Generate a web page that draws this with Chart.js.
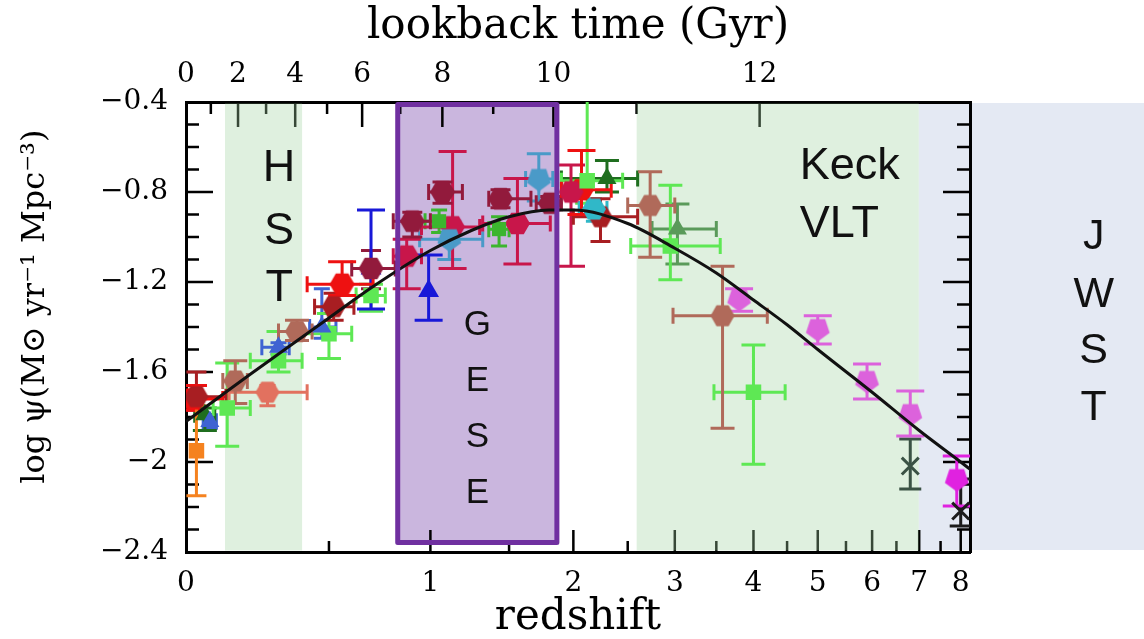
<!DOCTYPE html>
<html>
<head>
<meta charset="utf-8">
<script src="https://cdn.jsdelivr.net/npm/chart.js@4.4.1/dist/chart.umd.min.js"></script>
<style>
  html, body { margin: 0; padding: 0; background: #fff; }
  #wrap { width: 1144px; height: 639px; }
</style>
</head>
<body>
<div id="wrap"><canvas id="sfr" width="1144" height="639"></canvas></div>
<script>
// each row: [z, zLow, zHigh, logPsi, logPsiLow, logPsiHigh]  (null = no horizontal bar)
const orangeSquares = [[0.03, null, null, -1.95, -2.15, -1.75]];
const redHex = [
  [0.02, 0.0, 0.11, -1.72, -1.77, -1.66],
  [0.557, 0.41, 0.70, -1.21, -1.26, -1.11],
  [2.07, 1.90, 2.34, -0.79, -0.90, -0.615]
];
const darkRedHex = [
  [0.03, 0.0, 0.12, -1.71, -1.77, -1.60],
  [0.52, 0.44, 0.61, -1.31, -1.37, -1.25],
  [2.24, 2.00, 2.60, -0.91, -1.02, -0.83]
];
const maroonHex = [
  [0.69, 0.60, 0.81, -1.14, -1.23, -1.06],
  [0.90, 0.80, 1.00, -0.93, -1.00, -0.89],
  [1.07, 0.99, 1.19, -0.80, -0.85, -0.755],
  [1.44, 1.36, 1.66, -0.83, -0.87, -0.79],
  [1.81, 1.70, 1.90, -0.85, -0.88, -0.82]
];
const crimsonHex = [
  [0.87, 0.80, 0.95, -1.085, -1.23, -1.01],
  [1.13, 0.95, 1.30, -0.955, -1.14, -0.62],
  [1.56, 1.32, 1.81, -0.94, -1.12, -0.74],
  [1.98, null, null, -0.80, -1.13, -0.68]
];
const brownHex = [
  [0.15, 0.11, 0.19, -1.64, -1.74, -1.55],
  [0.37, 0.30, 0.43, -1.42, -1.46, -1.37],
  [2.73, 2.50, 3.00, -0.86, -1.09, -0.71],
  [3.58, 2.98, 4.20, -1.35, -1.85, -1.13]
];
const salmonHex = [[0.26, 0.13, 0.41, -1.69, -1.75, -1.66]];
const steelBluePentagons = [
  [1.11, 0.94, 1.32, -1.01, -1.10, -0.93],
  [1.72, 1.62, 1.83, -0.742, -0.84, -0.63]
];
const turquoiseHex = [[2.18, 2.05, 2.30, -0.876, -0.93, -0.83]];
const lightGreenSquares = [
  [0.124, 0.08, 0.20, -1.76, -1.93, -1.56],
  [0.30, 0.20, 0.39, -1.55, -1.60, -1.42],
  [0.50, 0.39, 0.60, -1.43, -1.54, -1.34],
  [0.69, 0.62, 0.76, -1.26, -1.33, -1.21],
  [2.12, 1.90, 2.45, -0.75, -0.85, -0.30],
  [2.95, 2.53, 3.55, -1.04, -1.19, -0.77],
  [4.00, 3.47, 4.47, -1.69, -2.01, -1.48]
];
const greenSquares = [
  [1.05, 0.97, 1.13, -0.93, -0.98, -0.88],
  [1.43, 1.36, 1.50, -0.965, -1.04, -0.91]
];
const darkGreenTriangles = [
  [0.055, 0.025, 0.085, -1.79, -1.86, -1.76],
  [2.30, 1.90, 2.60, -0.74, -0.80, -0.66]
];
const midGreenTriangles = [[3.03, 2.75, 3.50, -0.964, -1.12, -0.853]];
const royalBlueTriangles = [
  [0.07, 0.05, 0.09, -1.82, -1.85, -1.79],
  [0.30, 0.24, 0.34, -1.49, -1.52, -1.47],
  [0.47, 0.42, 0.53, -1.40, -1.45, -1.23]
];
const blueTriangles = [
  [0.69, null, null, -1.14, -1.32, -0.88],
  [0.99, null, null, -1.24, -1.37, -1.08]
];
const orchidPentagons = [
  [3.8, null, null, -1.276, -1.33, -1.23],
  [5.0, null, null, -1.409, -1.476, -1.35],
  [5.9, null, null, -1.64, -1.72, -1.564],
  [6.8, null, null, -1.787, -1.884, -1.684]
];
const magentaPentagons = [[7.9, null, null, -2.076, -2.196, -1.973]];
const slateCrosses = [[6.8, null, null, -2.018, -2.12, -1.898]];
const blackCrosses = [[8.0, null, null, -2.218, -2.284, -2.076]];

// fitted star formation history
const curveZ = [0, 0.1, 0.2, 0.3, 0.5, 0.7, 1.0, 1.25, 1.5, 1.8, 2.0, 2.5, 3.0, 3.5, 4.0, 4.5, 5.0, 6.0, 7.0, 8.0, 8.3];
const curveLogPsi = [-1.82, -1.71, -1.61, -1.52, -1.36, -1.22, -1.06, -0.97, -0.91, -0.88, -0.88, -0.94, -1.05, -1.16, -1.28, -1.39, -1.50, -1.69, -1.86, -2.00, -2.04];

// axes
const zTicks = [0, 1, 2, 3, 4, 5, 6, 7, 8];
const zMinorTicks = [0.5, 1.5, 2.5, 3.5, 4.5, 5.5, 6.5, 7.5];
const lookbackGyr = [0, 1, 2, 3, 4, 5, 6, 7, 8, 9, 10, 11, 12];
const lookbackZ = [0, 0.073, 0.159, 0.255, 0.363, 0.492, 0.648, 0.836, 1.069, 1.390, 1.835, 2.589, 4.088];
const yTicks = [-0.4, -0.8, -1.2, -1.6, -2, -2.4];
const zMax = 8.24;

// shaded regions (redshift ranges)
const hstBand = [0.117, 0.39];
const keckBand = [2.59, 6.99];
const jwstStart = 6.99;
const geseBox = [0.823, 1.863];

const lz = z => Math.log10(1 + z);

function marker(shape, color, r) {
  const c = document.createElement('canvas');
  const s = Math.ceil(2 * r + 2);
  c.width = s; c.height = s;
  const g = c.getContext('2d');
  g.fillStyle = color;
  g.beginPath();
  const n = shape === 'hex' ? 6 : 5;
  const a0 = shape === 'hex' ? 0 : Math.PI / 2;
  for (let i = 0; i < n; i++) {
    const a = a0 + i * 2 * Math.PI / n;
    const px = s / 2 + r * Math.cos(a), py = s / 2 + r * Math.sin(a);
    if (i) g.lineTo(px, py); else g.moveTo(px, py);
  }
  g.closePath();
  g.fill();
  return c;
}

// earlier entries are drawn on top
const series = [
  {rows: blackCrosses, color: '#1c1c1c', shape: 'crossRot', r: 12, cap: 11},
  {rows: slateCrosses, color: '#3a5244', shape: 'crossRot', r: 12, cap: 11},
  {rows: magentaPentagons, color: '#e022e0', shape: 'pent', r: 12.5, cap: 14},
  {rows: orchidPentagons, color: '#dc62dc', shape: 'pent', r: 12.5, cap: 14},
  {rows: royalBlueTriangles, color: '#3f63d2', shape: 'triangle', r: 11, cap: 8},
  {rows: darkGreenTriangles, color: '#1f6e1f', shape: 'triangle', r: 11, cap: 12},
  {rows: midGreenTriangles, color: '#5a9a5a', shape: 'triangle', r: 11, cap: 12},
  {rows: greenSquares, color: '#3cb52e', shape: 'rect', r: 10, cap: 8},
  {rows: lightGreenSquares, color: '#5ee854', shape: 'rect', r: 11, cap: 12},
  {rows: turquoiseHex, color: '#30b8c8', shape: 'hex', r: 12, cap: 8},
  {rows: steelBluePentagons, color: '#4a9ac8', shape: 'pent', r: 12.5, cap: 12},
  {rows: salmonHex, color: '#e2715f', shape: 'hex', r: 12, cap: 8},
  {rows: brownHex, color: '#b06a5a', shape: 'hex', r: 12, cap: 12},
  {rows: crimsonHex, color: '#c8164a', shape: 'hex', r: 12.5, cap: 14},
  {rows: maroonHex, color: '#921a3c', shape: 'hex', r: 12.5, cap: 10},
  {rows: blueTriangles, color: '#1818d8', shape: 'triangle', r: 12, cap: 14},
  {rows: darkRedHex, color: '#a81e22', shape: 'hex', r: 12, cap: 10},
  {rows: redHex, color: '#ee1111', shape: 'hex', r: 12.5, cap: 14},
  {rows: orangeSquares, color: '#f5821f', shape: 'rect', r: 11, cap: 10}
];

const datasets = series.map(s => ({
  data: s.rows.map(r => ({x: lz(r[0]), y: r[3], zlo: r[1], zhi: r[2], ylo: r[4], yhi: r[5]})),
  pointStyle: (s.shape === 'hex' || s.shape === 'pent') ? marker(s.shape, s.color, s.r) : s.shape,
  pointRadius: s.r,
  backgroundColor: s.color,
  borderColor: s.color,
  pointBorderWidth: s.shape === 'crossRot' ? 3 : 0,
  errColor: s.color,
  cap: s.cap,
  showLine: false,
  order: 1
}));

datasets.push({
  type: 'line',
  data: curveZ.map((z, i) => ({x: lz(z), y: curveLogPsi[i]})),
  borderColor: '#111',
  borderWidth: 3,
  pointRadius: 0,
  cubicInterpolationMode: 'monotone',
  fill: false,
  order: -1
});

const errorBars = {
  id: 'errorBars',
  beforeDraw(chart) {
    const {ctx, chartArea: a, scales: {x}} = chart;
    ctx.save();
    ctx.fillStyle = '#fff';
    ctx.fillRect(0, 0, chart.width, chart.height);
    ctx.fillStyle = '#e4e9f3';
    const x0 = x.getPixelForValue(lz(jwstStart));
    ctx.fillRect(x0, a.top + 1, chart.width - x0, a.bottom - a.top - 3);
    ctx.restore();
  },
  beforeDatasetsDraw(chart) {
    const {ctx, chartArea: a, scales: {x, y}} = chart;
    const t = chart.scales.xTop;
    // GESE fill behind the data
    ctx.save();
    ctx.fillStyle = '#cab6de';
    const gx0 = x.getPixelForValue(lz(geseBox[0])), gx1 = x.getPixelForValue(lz(geseBox[1]));
    ctx.fillRect(gx0, a.top, gx1 - gx0, y.getPixelForValue(-2.358) - a.top);
    ctx.restore();

    // inward ticks on all four sides
    ctx.save();
    ctx.strokeStyle = '#000';
    ctx.lineWidth = 2.5;
    ctx.beginPath();
    const v = (px, y0, len) => { ctx.moveTo(px, y0); ctx.lineTo(px, y0 + len); };
    const h = (x0, py, len) => { ctx.moveTo(x0, py); ctx.lineTo(x0 + len, py); };
    zTicks.slice(1).forEach(z => v(x.getPixelForValue(lz(z)), a.bottom, -22));
    zMinorTicks.forEach(z => v(x.getPixelForValue(lz(z)), a.bottom, -11));
    lookbackGyr.forEach((g, i) => { if (g > 0) v(t.getPixelForValue(lz(lookbackZ[i])), a.top, g % 2 ? 12 : 25); });
    for (let k = 1; k < 20; k++) {
      const py = y.getPixelForValue(-0.4 - k * 0.1);
      const len = k % 4 === 0 ? 27 : 13;
      h(a.left, py, len);
      h(a.right, py, -len);
    }
    ctx.stroke();
    ctx.restore();

    // translucent green survey bands (over the ticks, under the data)
    ctx.save();
    ctx.fillStyle = 'rgba(160, 212, 160, 0.34)';
    [hstBand, keckBand].forEach(b => {
      const x0 = x.getPixelForValue(lz(b[0])), x1 = x.getPixelForValue(lz(b[1]));
      ctx.fillRect(x0, a.top + 1.5, x1 - x0, a.bottom - a.top - 3);
    });
    ctx.restore();

    // error bars
    ctx.save();
    ctx.beginPath();
    ctx.rect(a.left, a.top, a.right - a.left, a.bottom - a.top);
    ctx.clip();
    ctx.lineWidth = 3;
    chart.data.datasets.forEach(ds => {
      if (!ds.errColor) return;
      ctx.strokeStyle = ds.errColor;
      ctx.beginPath();
      ds.data.forEach(p => {
        const px = x.getPixelForValue(p.x), py = y.getPixelForValue(p.y);
        const c = ds.cap;
        if (p.zlo !== null) {
          const x0 = x.getPixelForValue(lz(p.zlo)), x1 = x.getPixelForValue(lz(p.zhi));
          ctx.moveTo(x0, py); ctx.lineTo(x1, py);
          ctx.moveTo(x0, py - 8); ctx.lineTo(x0, py + 8);
          ctx.moveTo(x1, py - 8); ctx.lineTo(x1, py + 8);
        }
        const y0 = y.getPixelForValue(p.ylo), y1 = y.getPixelForValue(p.yhi);
        ctx.moveTo(px, y0); ctx.lineTo(px, y1);
        ctx.moveTo(px - c, y0); ctx.lineTo(px + c, y0);
        ctx.moveTo(px - c, y1); ctx.lineTo(px + c, y1);
      });
      ctx.stroke();
    });
    ctx.restore();
  },
  afterDatasetsDraw(chart) {
    const {ctx, scales: {x, y}} = chart;
    ctx.save();
    // GESE frame
    ctx.strokeStyle = '#7030a0';
    ctx.lineWidth = 5;
    ctx.lineJoin = 'round';
    const gx0 = x.getPixelForValue(lz(geseBox[0])), gx1 = x.getPixelForValue(lz(geseBox[1]));
    const gy0 = y.getPixelForValue(-0.411), gy1 = y.getPixelForValue(-2.358);
    ctx.strokeRect(gx0, gy0, gx1 - gx0, gy1 - gy0);

    // labels of the regions
    ctx.fillStyle = '#111';
    ctx.textBaseline = 'middle';
    const put = (txt, L, v, size, align) => {
      ctx.font = size + 'px "Liberation Sans", Arial, sans-serif';
      ctx.textAlign = align || 'center';
      ctx.fillText(txt, x.getPixelForValue(L), y.getPixelForValue(v));
    };
    ['H', 'S', 'T'].forEach((c, i) => put(c, 0.1147, [-0.698, -0.978, -1.231][i], 45));
    put('Keck', 0.756, -0.689, 45, 'left');
    put('VLT', 0.756, -0.947, 45, 'left');
    ['G', 'E', 'S', 'E'].forEach((c, i) => put(c, 0.3588, [-1.391, -1.64, -1.889, -2.138][i], 35));
    ['J', 'W', 'S', 'T'].forEach((c, i) => put(c, 1.118, [-1.0, -1.258, -1.507, -1.76][i], 43));
    ctx.restore();
  }
};

const serif = 'DejaVu Serif';
const tickFont = {family: serif, size: 28};
const fmt = v => { const r = Math.round(v * 10) / 10; return (r < 0 ? '\u2212' : '') + Math.abs(r); };
const evenGyr = lookbackGyr.filter(g => g % 2 === 0);

new Chart(document.getElementById('sfr'), {
  type: 'scatter',
  data: {datasets: datasets},
  options: {
    responsive: false,
    animation: false,
    devicePixelRatio: 1,
    layout: {padding: 0},
    plugins: {legend: {display: false}, tooltip: {enabled: false}},
    scales: {
      x: {
        type: 'linear', position: 'bottom', min: 0, max: lz(zMax),
        grid: {display: false, drawTicks: false},
        border: {display: true, color: '#000', width: 3},
        afterBuildTicks: s => { s.ticks = zTicks.map(z => ({value: lz(z)})); },
        ticks: {font: tickFont, color: '#000', padding: 15, maxRotation: 0, autoSkip: false,
                callback: (val, i) => String(zTicks[i])},
        title: {display: true, text: 'redshift', color: '#000', font: {family: serif, size: 42, lineHeight: 1}, padding: {top: 0, bottom: 0}},
        afterFit: s => { s.height = 87; }
      },
      xTop: {
        type: 'linear', position: 'top', min: 0, max: lz(zMax),
        grid: {display: false, drawTicks: false},
        border: {display: true, color: '#000', width: 3},
        afterBuildTicks: s => { s.ticks = evenGyr.map(g => ({value: lz(lookbackZ[g])})); },
        ticks: {font: tickFont, color: '#000', padding: 10, maxRotation: 0, autoSkip: false,
                callback: (val, i) => String(evenGyr[i])},
        title: {display: true, text: 'lookback time (Gyr)', color: '#000', font: {family: serif, size: 42, lineHeight: 1}, padding: {top: 6, bottom: 0}},
        afterFit: s => { s.height = 102; }
      },
      y: {
        type: 'linear', position: 'left', min: -2.4, max: -0.4,
        grid: {display: false, drawTicks: false},
        border: {display: true, color: '#000', width: 3},
        afterBuildTicks: s => { s.ticks = yTicks.map(v => ({value: v})); },
        ticks: {font: tickFont, color: '#000', padding: 18, callback: v => fmt(v)},
        title: {display: true, text: '    log \u03C8(M\u2299 yr\u207B\u00B9 Mpc\u207B\u00B3)', color: '#000',
                font: {family: serif, size: 32}, padding: {top: 16, bottom: 0}},
        afterFit: s => { s.width = 186; }
      },
      yRight: {
        type: 'linear', position: 'right', min: -2.4, max: -0.4,
        grid: {display: false, drawTicks: false},
        border: {display: true, color: '#000', width: 3},
        ticks: {display: false},
        afterFit: s => { s.width = 174; }
      }
    }
  },
  plugins: [errorBars]
});
</script>
</body>
</html>
